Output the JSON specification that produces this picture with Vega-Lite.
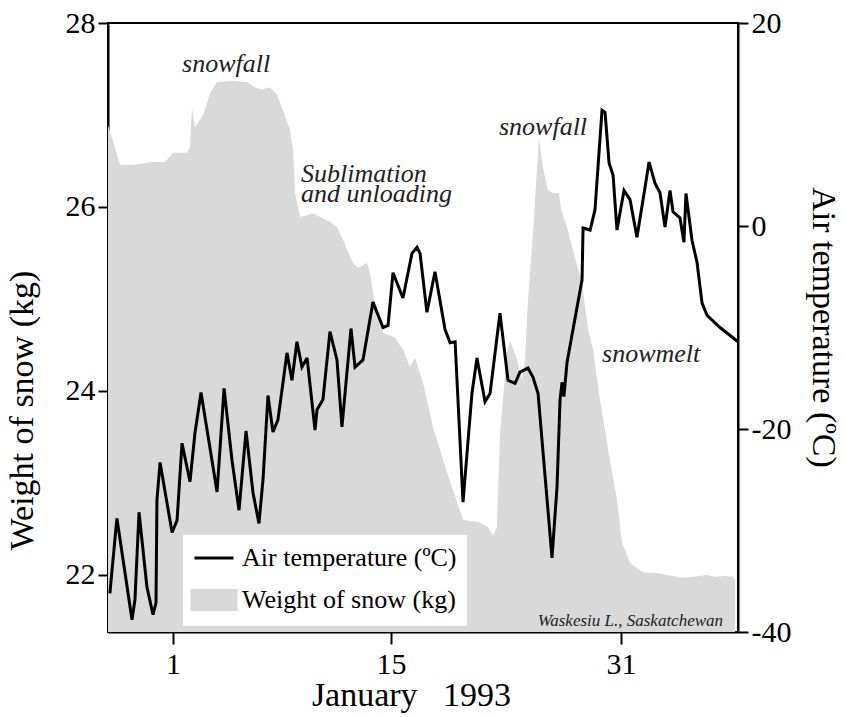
{
  "$schema": "https://vega.github.io/schema/vega-lite/v6.json",
  "width": 630,
  "height": 609,
  "autosize": {"type": "none"},
  "padding": {"left": 108, "top": 23, "right": 107, "bottom": 85},
  "background": "white",
  "config": {
    "font": "Liberation Serif",
    "view": {"stroke": "black", "strokeWidth": 2},
    "axis": {
      "grid": false,
      "domainColor": "black",
      "domainWidth": 2,
      "tickColor": "black",
      "tickWidth": 2,
      "labelFont": "Liberation Serif",
      "labelFontSize": 30,
      "labelColor": "black",
      "titleFont": "Liberation Serif",
      "titleFontSize": 34,
      "titleFontWeight": "normal",
      "titleColor": "black"
    },
    "legend": {
      "orient": "none",
      "legendX": 75,
      "legendY": 512,
      "fillColor": "white",
      "padding": 10,
      "labelFont": "Liberation Serif",
      "labelFontSize": 26,
      "labelColor": "black",
      "labelLimit": 400,
      "symbolSize": 400,
      "symbolOffset": 8,
      "labelOffset": 15,
      "rowPadding": 13,
      "symbolStrokeWidth": 3
    }
  },
  "datasets": {
    "snow": [
      {"day": -3.17, "weight": 26.89}, {"day": -2.4, "weight": 26.46}, {"day": -1.57, "weight": 26.46},
      {"day": -0.28, "weight": 26.49}, {"day": 0.49, "weight": 26.49}, {"day": 1.0, "weight": 26.59},
      {"day": 1.9, "weight": 26.59}, {"day": 2.09, "weight": 26.65}, {"day": 2.22, "weight": 27.08},
      {"day": 2.41, "weight": 26.87}, {"day": 2.93, "weight": 27.0}, {"day": 3.38, "weight": 27.24},
      {"day": 3.83, "weight": 27.36}, {"day": 4.85, "weight": 27.37}, {"day": 5.75, "weight": 27.36},
      {"day": 6.27, "weight": 27.3}, {"day": 6.72, "weight": 27.28}, {"day": 7.23, "weight": 27.3},
      {"day": 7.68, "weight": 27.22}, {"day": 8.06, "weight": 27.05}, {"day": 8.51, "weight": 26.84},
      {"day": 8.71, "weight": 26.62}, {"day": 8.84, "weight": 26.15}, {"day": 9.16, "weight": 25.89},
      {"day": 9.99, "weight": 25.93}, {"day": 11.08, "weight": 25.84}, {"day": 11.53, "weight": 25.78},
      {"day": 11.92, "weight": 25.64}, {"day": 12.56, "weight": 25.39}, {"day": 12.88, "weight": 25.34},
      {"day": 13.46, "weight": 25.39}, {"day": 13.65, "weight": 25.28}, {"day": 14.04, "weight": 24.88},
      {"day": 14.49, "weight": 24.63}, {"day": 15.28, "weight": 24.58}, {"day": 15.83, "weight": 24.45},
      {"day": 16.32, "weight": 24.26}, {"day": 16.67, "weight": 24.36}, {"day": 17.23, "weight": 24.09},
      {"day": 17.92, "weight": 23.61}, {"day": 18.9, "weight": 23.11}, {"day": 20.01, "weight": 22.6},
      {"day": 21.19, "weight": 22.57}, {"day": 21.75, "weight": 22.52}, {"day": 22.1, "weight": 22.43},
      {"day": 22.37, "weight": 22.52}, {"day": 22.58, "weight": 23.54}, {"day": 23.07, "weight": 24.41},
      {"day": 23.28, "weight": 24.55}, {"day": 23.77, "weight": 24.34}, {"day": 24.11, "weight": 24.12},
      {"day": 24.32, "weight": 24.34}, {"day": 24.53, "weight": 24.99}, {"day": 24.88, "weight": 25.72},
      {"day": 25.16, "weight": 26.43}, {"day": 25.3, "weight": 26.76}, {"day": 25.57, "weight": 26.43},
      {"day": 25.92, "weight": 26.18}, {"day": 26.27, "weight": 26.15}, {"day": 26.69, "weight": 26.15},
      {"day": 26.83, "weight": 25.97}, {"day": 27.25, "weight": 25.78}, {"day": 27.66, "weight": 25.53},
      {"day": 28.29, "weight": 25.17}, {"day": 28.71, "weight": 24.66}, {"day": 29.05, "weight": 24.45},
      {"day": 29.54, "weight": 23.9}, {"day": 30.23, "weight": 23.25}, {"day": 30.72, "weight": 22.82},
      {"day": 31.07, "weight": 22.35}, {"day": 31.63, "weight": 22.13}, {"day": 32.53, "weight": 22.03},
      {"day": 33.51, "weight": 22.02}, {"day": 34.2, "weight": 22.0}, {"day": 35.32, "weight": 21.97},
      {"day": 36.01, "weight": 21.98}, {"day": 36.99, "weight": 22.0}, {"day": 37.54, "weight": 21.98},
      {"day": 38.24, "weight": 21.99}, {"day": 38.8, "weight": 21.98}, {"day": 38.94, "weight": 21.95}
    ],
    "temp": [
      {"day": -3.05, "temp": -36.2}, {"day": -2.6, "temp": -28.8}, {"day": -1.63, "temp": -38.8},
      {"day": -1.44, "temp": -36.8}, {"day": -1.18, "temp": -28.2}, {"day": -0.67, "temp": -35.6},
      {"day": -0.28, "temp": -38.3}, {"day": -0.09, "temp": -37.1}, {"day": -0.03, "temp": -27.0},
      {"day": 0.17, "temp": -23.3}, {"day": 0.94, "temp": -30.2}, {"day": 1.26, "temp": -29.0},
      {"day": 1.58, "temp": -21.4}, {"day": 2.09, "temp": -25.2}, {"day": 2.41, "temp": -20.4},
      {"day": 2.8, "temp": -16.4}, {"day": 3.83, "temp": -26.2}, {"day": 4.28, "temp": -16.0},
      {"day": 4.79, "temp": -23.1}, {"day": 5.24, "temp": -28.0}, {"day": 5.69, "temp": -20.2},
      {"day": 6.14, "temp": -26.3}, {"day": 6.52, "temp": -29.3}, {"day": 6.78, "temp": -25.0},
      {"day": 7.1, "temp": -16.7}, {"day": 7.42, "temp": -20.3}, {"day": 7.74, "temp": -19.1},
      {"day": 8.32, "temp": -12.5}, {"day": 8.64, "temp": -15.2}, {"day": 8.96, "temp": -11.4},
      {"day": 9.28, "temp": -13.9}, {"day": 9.61, "temp": -13.0}, {"day": 10.12, "temp": -20.1},
      {"day": 10.25, "temp": -18.1}, {"day": 10.63, "temp": -17.1}, {"day": 11.08, "temp": -10.4},
      {"day": 11.53, "temp": -13.2}, {"day": 11.85, "temp": -19.8}, {"day": 12.43, "temp": -10.1},
      {"day": 12.69, "temp": -13.9}, {"day": 13.2, "temp": -13.2}, {"day": 13.84, "temp": -7.5},
      {"day": 14.49, "temp": -10.0}, {"day": 14.81, "temp": -9.8}, {"day": 15.14, "temp": -4.6},
      {"day": 15.83, "temp": -7.1}, {"day": 16.46, "temp": -2.7}, {"day": 16.81, "temp": -2.1},
      {"day": 17.02, "temp": -2.7}, {"day": 17.5, "temp": -8.5}, {"day": 18.06, "temp": -4.5},
      {"day": 18.76, "temp": -10.2}, {"day": 19.11, "temp": -11.5}, {"day": 19.46, "temp": -11.4},
      {"day": 20.01, "temp": -27.2}, {"day": 20.63, "temp": -16.5}, {"day": 20.98, "temp": -13.0},
      {"day": 21.54, "temp": -17.3}, {"day": 21.89, "temp": -16.5}, {"day": 22.58, "temp": -8.6},
      {"day": 23.14, "temp": -15.2}, {"day": 23.63, "temp": -15.5}, {"day": 23.97, "temp": -14.4},
      {"day": 24.53, "temp": -14.0}, {"day": 24.88, "temp": -14.9}, {"day": 25.23, "temp": -16.5},
      {"day": 26.2, "temp": -32.7}, {"day": 26.55, "temp": -25.7}, {"day": 26.76, "temp": -17.1},
      {"day": 26.9, "temp": -15.4}, {"day": 27.03, "temp": -16.8}, {"day": 27.24, "temp": -13.5},
      {"day": 27.66, "temp": -10.2}, {"day": 28.29, "temp": -5.3}, {"day": 28.36, "temp": -0.2},
      {"day": 28.85, "temp": -0.4}, {"day": 29.19, "temp": 1.6}, {"day": 29.4, "temp": 5.8},
      {"day": 29.68, "temp": 11.4}, {"day": 29.89, "temp": 11.2}, {"day": 30.17, "temp": 6.2},
      {"day": 30.45, "temp": 5.0}, {"day": 30.72, "temp": -0.4}, {"day": 31.21, "temp": 3.5},
      {"day": 31.63, "temp": 2.6}, {"day": 32.11, "temp": -1.1}, {"day": 32.67, "temp": 3.8},
      {"day": 32.95, "temp": 6.3}, {"day": 33.37, "temp": 4.2}, {"day": 33.71, "temp": 3.3},
      {"day": 34.06, "temp": -0.1}, {"day": 34.41, "temp": 3.5}, {"day": 34.62, "temp": 1.4},
      {"day": 35.1, "temp": 0.8}, {"day": 35.38, "temp": -1.6}, {"day": 35.52, "temp": 3.2},
      {"day": 35.94, "temp": -1.4}, {"day": 36.29, "temp": -3.6}, {"day": 36.64, "temp": -7.6},
      {"day": 36.99, "temp": -8.8}, {"day": 37.89, "temp": -10.0}, {"day": 39.14, "temp": -11.4}
    ],
    "notes": [
      {"day": 1.58, "weight": 27.47, "label": "snowfall"},
      {"day": 9.22, "weight": 26.27, "label": "Sublimation"},
      {"day": 9.22, "weight": 26.05, "label": "and unloading"},
      {"day": 22.51, "weight": 26.78, "label": "snowfall"},
      {"day": 29.68, "weight": 24.32, "label": "snowmelt"}
    ],
    "place": [
      {"day": 38.1, "weight": 21.45, "label": "Waskesiu  L., Saskatchewan"}
    ]
  },
  "layer": [
    {
      "layer": [
        {
          "data": {"name": "snow"},
          "mark": {"type": "area", "clip": true, "opacity": 1},
          "encoding": {
            "x": {
              "field": "day", "type": "quantitative",
              "scale": {"domain": [-3.17, 1, 15, 31, 39.14], "range": [0, 65, 283, 513, 630], "zero": false, "nice": false},
              "axis": {"values": [1, 15, 31], "tickSize": 12, "labelPadding": 5, "title": "January\u00a0\u00a0 1993", "titleX": 303, "titleY": 63, "titleBaseline": "middle", "titleAlign": "center"}
            },
            "y": {
              "field": "weight", "type": "quantitative",
              "scale": {"domain": [21.38, 28], "zero": false, "nice": false},
              "axis": {"orient": "left", "values": [22, 24, 26, 28], "format": "d", "tickSize": 10, "labelPadding": 3, "title": "Weight of snow (kg)", "titleX": -86, "titleY": 387, "titleAngle": -90, "titleBaseline": "middle", "titleAlign": "center"}
            },
            "y2": {"datum": 21.38},
            "color": {
              "datum": "Weight of snow (kg)",
              "type": "nominal",
              "scale": {"domain": ["Air temperature (ºC)", "Weight of snow (kg)"], "range": ["black", "#d9d9d9"]},
              "legend": {
                "title": null,
                "encode": {
                  "symbols": {
                    "update": {
                      "shape": {"signal": "datum.value == 'Weight of snow (kg)' ? 'M-2.2,-0.95L2.2,-0.95L2.2,0.95L-2.2,0.95Z' : 'M-1.95,0L1.95,0'"},
                      "fill": {"signal": "datum.value == 'Weight of snow (kg)' ? '#d9d9d9' : 'transparent'"},
                      "stroke": {"signal": "datum.value == 'Weight of snow (kg)' ? 'transparent' : 'black'"},
                      "strokeWidth": {"value": 3},
                      "opacity": {"value": 1}
                    }
                  }
                }
              }
            }
          }
        },
        {
          "data": {"name": "notes"},
          "mark": {"type": "text", "align": "left", "baseline": "alphabetic", "font": "Liberation Serif", "fontStyle": "italic", "fontSize": 26, "color": "#222222"},
          "encoding": {
            "x": {"field": "day", "type": "quantitative"},
            "y": {"field": "weight", "type": "quantitative"},
            "text": {"field": "label"}
          }
        },
        {
          "data": {"name": "place"},
          "mark": {"type": "text", "align": "right", "baseline": "alphabetic", "font": "Liberation Serif", "fontStyle": "italic", "fontSize": 17, "color": "#222222"},
          "encoding": {
            "x": {"field": "day", "type": "quantitative"},
            "y": {"field": "weight", "type": "quantitative"},
            "text": {"field": "label"}
          }
        }
      ]
    },
    {
      "layer": [
        {
          "mark": {"type": "rule", "strokeDash": [5, 4], "strokeWidth": 1.5, "color": "black"},
          "encoding": {
            "y": {"datum": 0, "type": "quantitative"}
          }
        },
        {
          "data": {"name": "temp"},
          "mark": {"type": "line", "strokeWidth": 3, "strokeJoin": "miter", "strokeMiterLimit": 3},
          "encoding": {
            "x": {"field": "day", "type": "quantitative"},
            "y": {
              "field": "temp", "type": "quantitative",
              "scale": {"domain": [-40, 20], "zero": false, "nice": false},
              "axis": {"orient": "right", "values": [-40, -20, 0, 20], "tickSize": 10, "labelPadding": 3, "labelExpr": "'' + datum.value", "title": "Air temperature (ºC)", "titleX": 84, "titleY": 304, "titleAngle": 90, "titleBaseline": "middle", "titleAlign": "center"}
            },
            "color": {
              "datum": "Air temperature (ºC)",
              "type": "nominal",
              "legend": {
                "title": null,
                "encode": {
                  "symbols": {
                    "update": {
                      "shape": {"signal": "datum.value == 'Weight of snow (kg)' ? 'M-2.2,-0.95L2.2,-0.95L2.2,0.95L-2.2,0.95Z' : 'M-1.95,0L1.95,0'"},
                      "fill": {"signal": "datum.value == 'Weight of snow (kg)' ? '#d9d9d9' : 'transparent'"},
                      "stroke": {"signal": "datum.value == 'Weight of snow (kg)' ? 'transparent' : 'black'"},
                      "strokeWidth": {"value": 3},
                      "opacity": {"value": 1}
                    }
                  }
                }
              }
            }
          }
        }
      ]
    }
  ],
  "resolve": {"scale": {"y": "independent"}}
}
